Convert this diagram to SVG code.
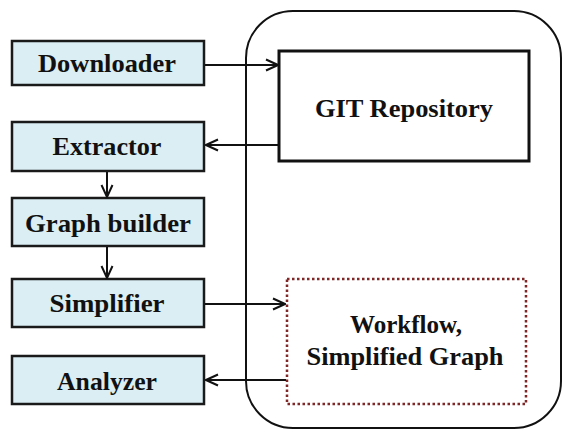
<svg xmlns="http://www.w3.org/2000/svg" width="563" height="430" viewBox="0 0 563 430">
  <style>
    .step { fill: #daeef3; stroke: #1a1a1a; stroke-width: 2.5; }
    .label { font-family: "Liberation Serif", "Times New Roman", serif; font-weight: bold; font-size: 25px; fill: #111; text-anchor: middle; }
    .wire { stroke: #111; stroke-width: 2; fill: none; marker-end: url(#chevron); }
  </style>
  <defs>
    <marker id="chevron" viewBox="0 0 14 14" refX="13" refY="7" markerWidth="14" markerHeight="14" markerUnits="userSpaceOnUse" orient="auto">
      <path d="M1 1.5 L13 7 L1 12.5" fill="none" stroke="#111" stroke-width="2"/>
    </marker>
  </defs>

  <rect width="563" height="430" fill="#ffffff"/>

  <!-- storage container -->
  <g id="storage">
    <rect x="246" y="11" width="315" height="417" rx="47" ry="47" fill="none" stroke="#111" stroke-width="2"/>
  </g>

  <g id="git-repository">
    <rect x="279" y="51" width="250" height="110" fill="#ffffff" stroke="#111" stroke-width="3"/>
    <text class="label" x="404" y="117" textLength="178" lengthAdjust="spacingAndGlyphs">GIT Repository</text>
  </g>

  <g id="workflow-graph">
    <rect x="287" y="279" width="239" height="125" fill="#ffffff" stroke="#7f2626" stroke-width="2.5" stroke-dasharray="2.5 2.5"/>
    <text class="label" x="406" y="333" textLength="112" lengthAdjust="spacingAndGlyphs">Workflow,</text>
    <text class="label" x="405" y="365" textLength="197" lengthAdjust="spacingAndGlyphs">Simplified Graph</text>
  </g>

  <!-- pipeline steps -->
  <g id="downloader">
    <rect class="step" x="12" y="41" width="192" height="44"/>
    <text class="label" x="107" y="72" textLength="138" lengthAdjust="spacingAndGlyphs">Downloader</text>
  </g>
  <g id="extractor">
    <rect class="step" x="12" y="122" width="192" height="49"/>
    <text class="label" x="107" y="155" textLength="109" lengthAdjust="spacingAndGlyphs">Extractor</text>
  </g>
  <g id="graph-builder">
    <rect class="step" x="12" y="198" width="192" height="48"/>
    <text class="label" x="108" y="232" textLength="166" lengthAdjust="spacingAndGlyphs">Graph builder</text>
  </g>
  <g id="simplifier">
    <rect class="step" x="12" y="279" width="192" height="48"/>
    <text class="label" x="107" y="312" textLength="115" lengthAdjust="spacingAndGlyphs">Simplifier</text>
  </g>
  <g id="analyzer">
    <rect class="step" x="12" y="356" width="192" height="48"/>
    <text class="label" x="107" y="390" textLength="100" lengthAdjust="spacingAndGlyphs">Analyzer</text>
  </g>

  <!-- connectors -->
  <g id="connectors">
    <line class="wire" x1="205" y1="65" x2="278" y2="65"/>
    <line class="wire" x1="278" y1="145" x2="206" y2="145"/>
    <line class="wire" x1="107" y1="172" x2="107" y2="197"/>
    <line class="wire" x1="107" y1="247" x2="107" y2="278"/>
    <line class="wire" x1="205" y1="304" x2="285" y2="304"/>
    <line class="wire" x1="286" y1="380" x2="206" y2="380"/>
  </g>
</svg>
